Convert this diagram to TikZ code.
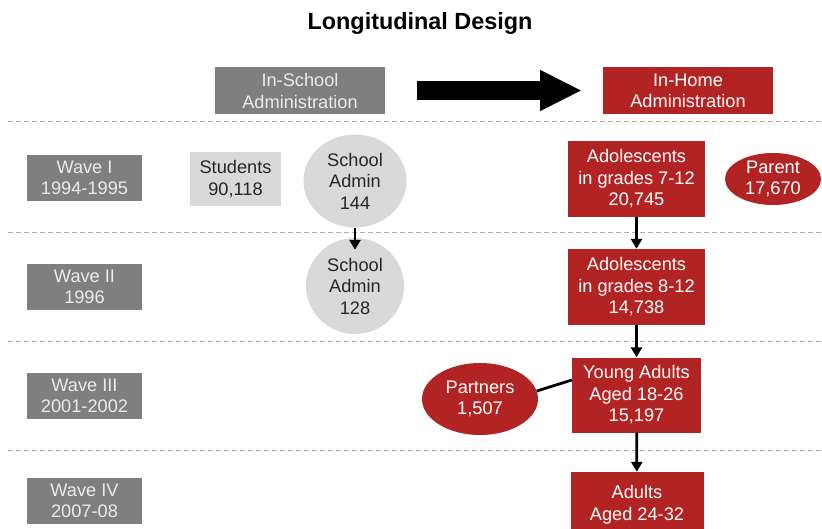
\documentclass[tikz,border=0pt]{standalone}
\usepackage{fontspec}
\setmainfont{Liberation Sans}
\usetikzlibrary{arrows.meta, shapes.geometric}

\definecolor{boxgray}{RGB}{127,127,127}
\definecolor{lightfill}{RGB}{217,217,217}
\definecolor{homered}{RGB}{178,36,36}
\definecolor{wavetext}{RGB}{235,235,235}
\definecolor{rulecol}{RGB}{205,165,165}

\tikzset{
    body/.style={font=\fontsize{18.2}{21.5}\selectfont, align=center, inner sep=0pt},
    wave/.style={body, rectangle, fill=boxgray, text=wavetext, minimum width=115pt, minimum height=46pt},
    header/.style={wave, minimum width=170pt, minimum height=47pt},
    homebox/.style={body, rectangle, fill=homered, text=white, minimum width=137pt, minimum height=76pt},
    homeoval/.style={body, ellipse, fill=homered, text=white},
    admin/.style={body, ellipse, fill=lightfill, text=black!85, minimum width=98pt, minimum height=96pt},
    flow/.style={line width=2.8pt, -{Triangle[length=10pt, width=11pt]}},
    waverule/.style={rulecol, line width=1pt, dash pattern=on 5pt off 3pt}
}

\begin{document}
\begin{tikzpicture}[x=1pt, y=-1pt]
    \useasboundingbox (0,0) rectangle (822,529);

    % wave separators
    \foreach \y in {122, 233, 342, 450}
        \draw[waverule] (8,\y) -- (822,\y);

    \node[font=\fontsize{23.4}{27}\selectfont\bfseries] (title) at (420,24) {Longitudinal Design};

    \node[header]                  (school) at (300,91) {In-School\\Administration};
    \node[header, fill=homered, text=white] (home) at (688,91) {In-Home\\Administration};
    \coordinate (bigfrom) at (417,90.5);
    \coordinate (bigto)   at (582,90.5);
    \draw[line width=19pt, -{Triangle[length=42pt, width=38pt]}] (bigfrom) -- (bigto);

    \node[wave] (w1) at (84.5,178) {Wave I\\1994-1995};
    \node[wave] (w2) at (84.5,287) {Wave II\\1996};
    \node[wave] (w3) at (84.5,396) {Wave III\\2001-2002};
    \node[wave] (w4) at (84.5,501) {Wave IV\\2007-08};

    \node[body, fill=lightfill, text=black!85, minimum width=91pt, minimum height=54pt]
                          (students) at (235.5,179) {Students\\90,118};
    \node[admin, minimum width=103pt, minimum height=93pt]
                          (admin1)   at (355,181) {School\\Admin\\144};
    \node[admin]          (admin2)   at (355,286) {School\\Admin\\128};

    \node[homebox]        (adol1)    at (636.5,179) {Adolescents\\in grades 7-12\\20,745};
    \node[homeoval, minimum width=96pt, minimum height=52pt]
                          (parent)   at (773,179) {Parent\\17,670};
    \node[homebox]        (adol2)    at (636.5,287) {Adolescents\\in grades 8-12\\14,738};
    \node[homebox, minimum width=129pt, minimum height=75pt]
                          (young)    at (636.5,395) {Young Adults\\Aged 18-26\\15,197};
    \node[homeoval, minimum width=116pt, minimum height=72pt]
                          (partners) at (480,399) {Partners\\1,507};
    \node[homebox, minimum width=133pt, minimum height=66pt]
                          (adults)   at (637,505) {Adults\\Aged 24-32};

    \path
        (admin1) edge [flow, shorten >=-12pt] (admin2)
        (adol1)  edge [flow] (adol2)
        (adol2)  edge [flow] (young)
        (young)  edge [flow] (adults)
        (partners.8) edge [line width=2.8pt] (young.167)
        ;
\end{tikzpicture}
\end{document}
